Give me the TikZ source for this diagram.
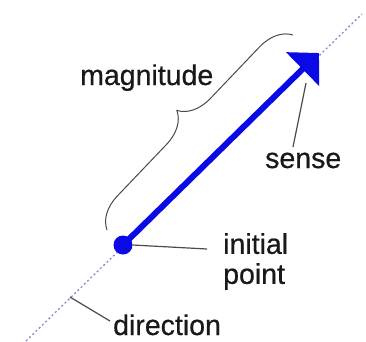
\documentclass[tikz,border=0pt]{standalone}
\usepackage{fontspec}
\setmainfont{Liberation Sans}
\usetikzlibrary{arrows.meta,decorations.pathreplacing}
\definecolor{vecblue}{HTML}{0A0AE6}
\definecolor{axis}{HTML}{8A8AD2}
\definecolor{leader}{HTML}{4A4A4A}
\tikzset{
  label/.style={font=\fontsize{28.5}{30}\selectfont\addfontfeature{FakeBold=0.6},text=black!90,inner sep=0pt,align=left},
  vec/.style={-{Triangle[length=23pt,width=46pt]},line width=6pt,draw=vecblue},
  origin/.style={circle,fill=vecblue,inner sep=0pt,minimum size=19pt},
  dirline/.style={draw=axis,line width=1.3pt,dash pattern=on 2pt off 2.5pt},
  pointer/.style={draw=leader,line width=1.2pt},
  span/.style={draw=leader,line width=1pt,decorate,decoration={brace,amplitude=32pt}}
}
\begin{document}
\begin{tikzpicture}[x=1pt,y=-1pt]
\useasboundingbox (0,0) rectangle (366,341);
% line of action
\coordinate (dirlo) at (26,341);
\coordinate (dirhi) at (362,14);
\draw[dirline] (dirlo) -- (dirhi);

% the vector
\node[origin] (init) at (123,245) {};
\coordinate (tip) at (319,53);
\draw[vec] (init.center) -- (tip);

% labels
\node[label,anchor=base west] (mag) at (80,85) {magnitude};
\node[label,anchor=base west] (sense) at (265,168) {sense};
\node[label,anchor=north west] (ini) at (223,233) {initial\\point};
\node[label,anchor=base west] (dir) at (113,335) {direction};

% brace and pointers
\coordinate (braceA) at (107,230);
\coordinate (braceB) at (293,35);
\draw[span] (braceA) -- (braceB);
\coordinate (senseA) at (306,83);
\coordinate (senseB) at (293,147);
\draw[pointer] (senseA) -- (senseB);
\coordinate (iniB) at (207,249);
\draw[pointer] (init.east) -- (iniB);
\coordinate (dirA) at (70,297);
\coordinate (dirB) at (110,321);
\draw[pointer] (dirA) -- (dirB);
\end{tikzpicture}
\end{document}
